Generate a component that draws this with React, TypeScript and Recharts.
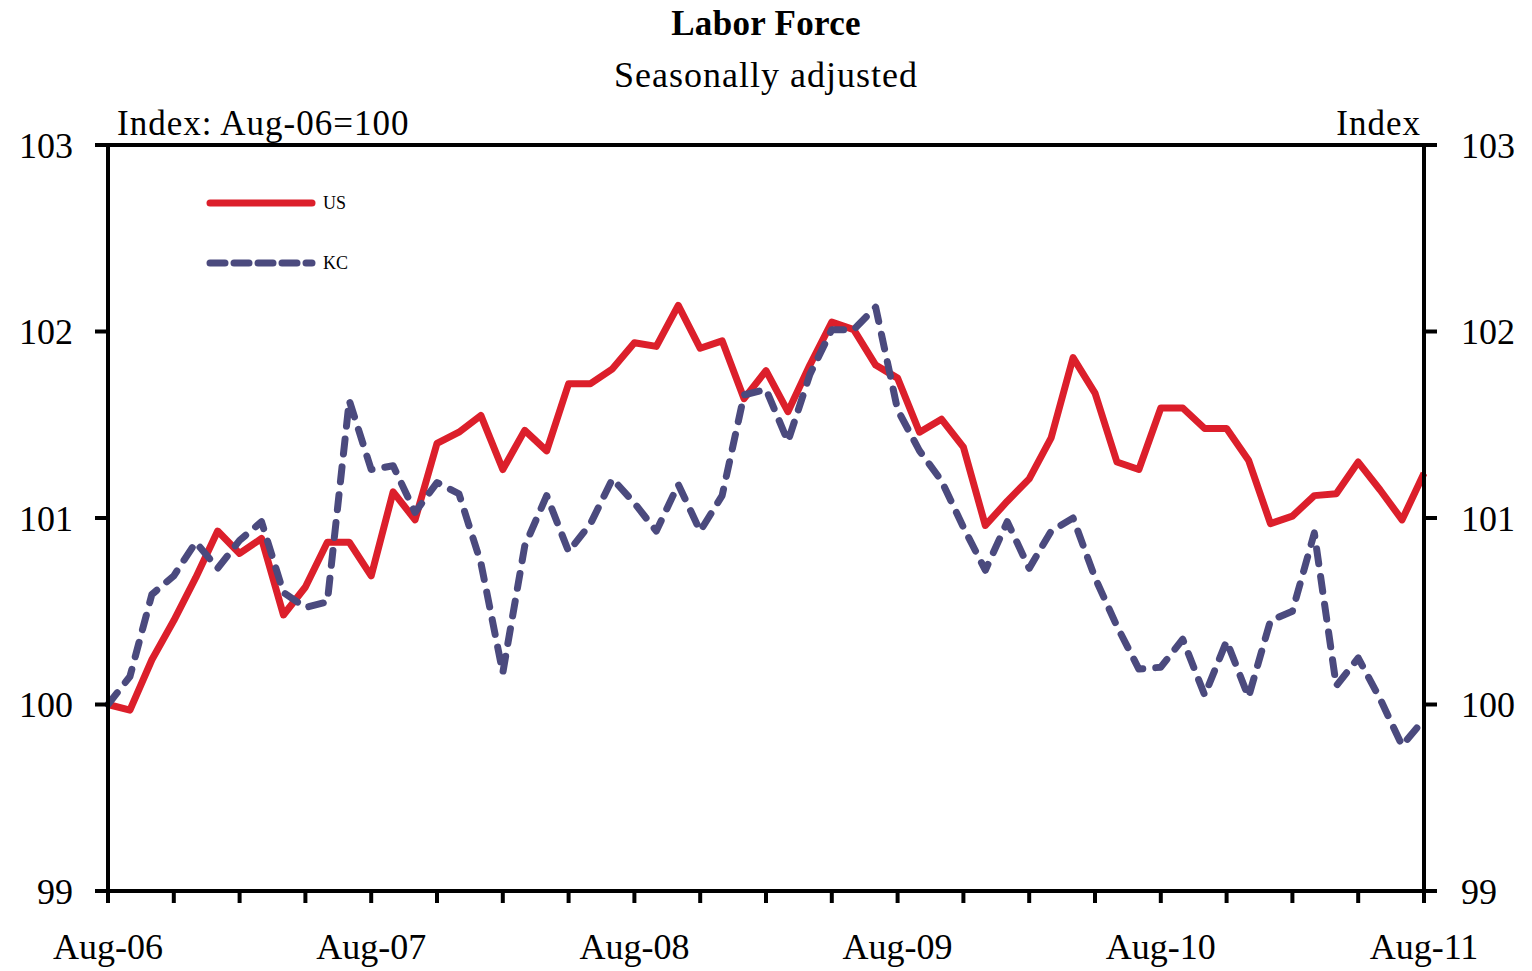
import React from 'react';
import { LineChart, Line, XAxis, YAxis, ReferenceLine } from 'recharts';

// monthly index values, Aug-06 .. Aug-11 (Aug-06 = 100)
const usValues = [
    100.0, 99.97, 100.24, 100.45, 100.68, 100.93, 100.81, 100.89, 100.48, 100.63, 100.87, 100.87,
    100.69, 101.14, 100.99, 101.4, 101.46, 101.55, 101.26, 101.47, 101.36, 101.72, 101.72, 101.8,
    101.94, 101.92, 102.14, 101.91, 101.95, 101.64, 101.79, 101.57, 101.82, 102.05, 102.01, 101.82,
    101.75, 101.46, 101.53, 101.38, 100.96, 101.09, 101.21, 101.43, 101.86, 101.67, 101.3, 101.26,
    101.59, 101.59, 101.48, 101.48, 101.31, 100.97, 101.01, 101.12, 101.13, 101.3, 101.15, 100.99,
    101.24,
];
const kcValues = [
    100.0, 100.15, 100.59, 100.69, 100.87, 100.73, 100.88, 100.98, 100.6, 100.52, 100.55, 101.63,
    101.26, 101.28, 101.03, 101.19, 101.13, 100.76, 100.17, 100.85, 101.12, 100.82, 100.97, 101.21,
    101.08, 100.93, 101.18, 100.93, 101.12, 101.66, 101.69, 101.41, 101.77, 102.01, 102.01, 102.13,
    101.58, 101.36, 101.2, 100.95, 100.72, 100.98, 100.73, 100.93, 101.0, 100.68, 100.42, 100.19,
    100.2, 100.35, 100.05, 100.34, 100.04, 100.45, 100.5, 100.92, 100.1, 100.25, 100.03, 99.78,
    99.92,
];
const yearLabels = ['Aug-06', 'Aug-07', 'Aug-08', 'Aug-09', 'Aug-10', 'Aug-11'];
const xTicks = [0, 3, 6, 9, 12, 15, 18, 21, 24, 27, 30, 33, 36, 39, 42, 45, 48, 51, 54, 57, 60];
const yTicks = [99, 100, 101, 102, 103];

const RED = '#DC1F2B';
const NAVY = '#4B4A7E';
const FONT = '"Liberation Serif", "Times New Roman", serif';

const data = usValues.map((us, i) => ({ m: i, us, kc: kcValues[i] }));

const legendItems = [
    { name: 'US', color: RED, dash: undefined },
    { name: 'KC', color: NAVY, dash: '15 9' },
];

export default function App() {
    const axisProps = {
        stroke: '#000',
        strokeWidth: 4,
        tickLine: { stroke: '#000', strokeWidth: 4 },
        tick: { fill: '#000', fontSize: 36, fontFamily: FONT },
    };

    return (
        <div style={{ position: 'absolute', left: 0, top: 0, width: 1532, height: 971, background: '#fff', fontFamily: FONT }}>
            <div style={{ position: 'absolute', top: 4, width: 1532, textAlign: 'center', fontSize: 35, fontWeight: 'bold', letterSpacing: 0.3 }}>
                Labor Force
            </div>
            <div style={{ position: 'absolute', top: 54, width: 1532, textAlign: 'center', fontSize: 36, letterSpacing: 1 }}>
                Seasonally adjusted
            </div>
            <div style={{ position: 'absolute', top: 104, left: 117, fontSize: 35, letterSpacing: 1 }}>Index: Aug-06=100</div>
            <div style={{ position: 'absolute', top: 104, right: 1532 - 1421, fontSize: 35, letterSpacing: 1 }}>Index</div>

            <LineChart width={1532} height={971} data={data}
                margin={{ top: 145, right: 8, bottom: 10, left: 8 }}
                style={{ position: 'absolute', left: 0, top: 0 }}>
                <XAxis dataKey="m" type="number" domain={[0, 60]} ticks={xTicks} interval={0}
                    tickSize={12} tickMargin={30} height={70} {...axisProps}
                    tickFormatter={(v: number) => (v % 12 === 0 ? yearLabels[v / 12] : '')} />
                <YAxis yAxisId="left" orientation="left" domain={[99, 103]} ticks={yTicks} width={100}
                    tickSize={13} tickMargin={22} {...axisProps} />
                <YAxis yAxisId="right" orientation="right" domain={[99, 103]} ticks={yTicks} width={100}
                    tickSize={13} tickMargin={24} {...axisProps} />
                <ReferenceLine yAxisId="left" y={103} stroke="#000" strokeWidth={4} />
                <Line yAxisId="left" dataKey="us" name="US" stroke={RED} strokeWidth={7} dot={false}
                    strokeLinejoin="round" isAnimationActive={false} />
                <Line yAxisId="right" dataKey="kc" name="KC" stroke={NAVY} strokeWidth={7} dot={false}
                    strokeDasharray="15 13" strokeLinecap="round" strokeLinejoin="round" isAnimationActive={false} />
            </LineChart>

            <div style={{ position: 'absolute', left: 204, top: 173, fontSize: 18 }}>
                {legendItems.map((item) => (
                    <div key={item.name} style={{ display: 'flex', alignItems: 'center', height: 60 }}>
                        <svg width={116} height={12}>
                            <line x1={6} y1={6} x2={108} y2={6} stroke={item.color} strokeWidth={7}
                                strokeLinecap="round" strokeDasharray={item.dash} />
                        </svg>
                        <span style={{ marginLeft: 3 }}>{item.name}</span>
                    </div>
                ))}
            </div>
        </div>
    );
}
